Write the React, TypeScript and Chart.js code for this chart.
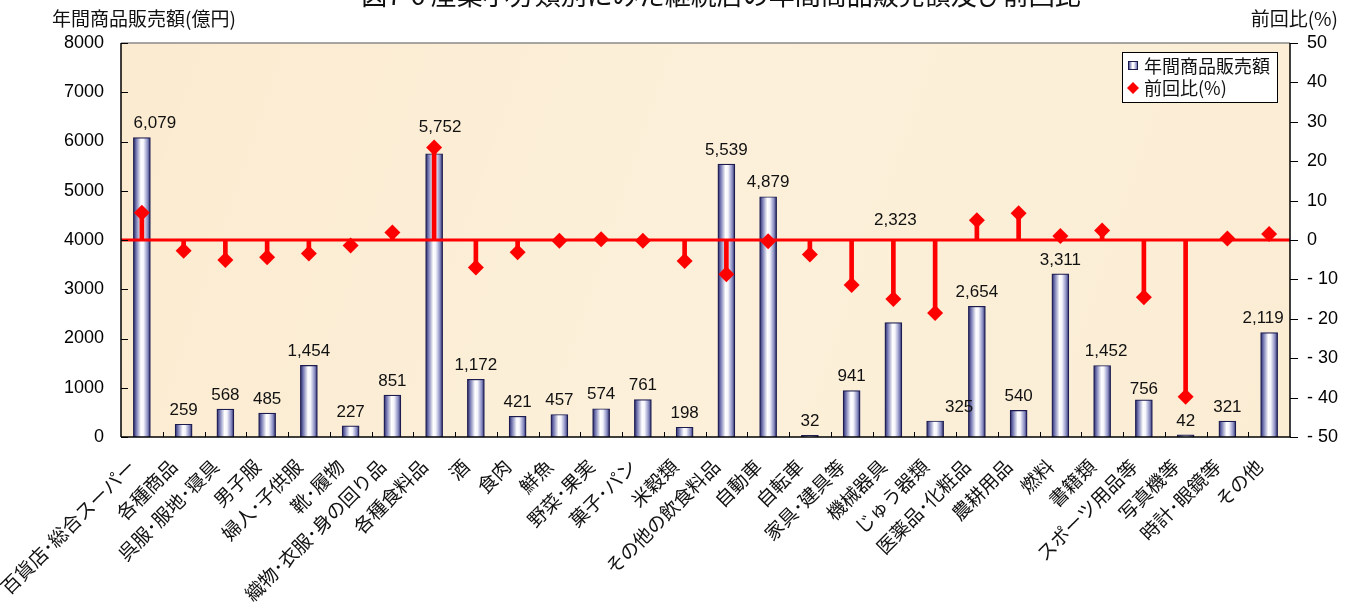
import React, { useEffect, useRef } from 'react';
import { Chart, registerables } from 'chart.js';

Chart.register(...registerables);

const W = 1352;
const H = 608;

const chartTitle = '図7-6 産業小分類別にみた継続店の年間商品販売額及び前回比';
const leftAxisTitle = '年間商品販売額(億円)';
const rightAxisTitle = '前回比(%)';
const salesSeriesName = '年間商品販売額';
const rateSeriesName = '前回比(%)';

const categories = [
  '百貨店･総合スーパー', '各種商品', '呉服･服地･寝具', '男子服', '婦人･子供服', '靴･履物',
  '織物･衣服･身の回り品', '各種食料品', '酒', '食肉', '鮮魚', '野菜･果実', '菓子･パン', '米穀類',
  'その他の飲食料品', '自動車', '自転車', '家具･建具等', '機械器具', 'じゅう器類', '医薬品･化粧品',
  '農耕用品', '燃料', '書籍類', 'スポーツ用品等', '写真機等', '時計･眼鏡等', 'その他',
];

const salesValues = [
  6079, 259, 568, 485, 1454, 227, 851, 5752, 1172, 421, 457, 574, 761, 198,
  5539, 4879, 32, 941, 2323, 325, 2654, 540, 3311, 1452, 756, 42, 321, 2119,
];

const changeRates = [
  6.9, -2.7, -5.1, -4.4, -3.4, -1.4, 1.9, 23.5, -7.0, -3.1, -0.2, 0.2, -0.2, -5.3,
  -8.7, -0.3, -3.7, -11.4, -15.0, -18.5, 5.0, 6.8, 1.0, 2.4, -14.5, -39.8, 0.4, 1.5,
];

const leftTickRange = [0, 8000, 1000];
const rightTickRange = [-50, 50, 10];

const FONT_NUM = '"Liberation Sans", Arial, sans-serif';
const FONT_JP = '"Noto Sans CJK JP", "Noto Sans", sans-serif';

const BAR_W = 17;

function barGradient(ctx: CanvasRenderingContext2D, left: number, w: number) {
  const g = ctx.createLinearGradient(left, 0, left + w, 0);
  g.addColorStop(0, '#22225f');
  g.addColorStop(0.15, '#6d70ad');
  g.addColorStop(0.45, '#ffffff');
  g.addColorStop(0.6, '#f4f4fc');
  g.addColorStop(0.85, '#8689c0');
  g.addColorStop(1, '#22225f');
  return g;
}

// label nudges (pixels) for value labels that were moved in the original
const labelNudge: Record<number, [number, number]> = {
  0: [13, 0],
  7: [6, -12],
  18: [2, -88],
  19: [24, 0],
  23: [4, 0],
  24: [0, 4],
  27: [-6, 0],
};

export default function App() {
  const ref = useRef<HTMLCanvasElement>(null);

  useEffect(() => {
    const canvas = ref.current!;

    const line = (ctx: CanvasRenderingContext2D, x1: number, y1: number, x2: number, y2: number) => {
      ctx.beginPath();
      ctx.moveTo(x1, y1);
      ctx.lineTo(x2, y2);
      ctx.stroke();
    };

    const decor = {
      id: 'decor',
      beforeDraw(chart: any) {
        const { ctx, chartArea: a } = chart;
        ctx.save();
        ctx.fillStyle = '#ffffff';
        ctx.fillRect(0, 0, W, H);
        const bg = ctx.createLinearGradient(a.left, a.top, a.right, a.bottom);
        bg.addColorStop(0, '#fbebd0');
        bg.addColorStop(0.5, '#fcf0da');
        bg.addColorStop(1, '#fbedd4');
        ctx.fillStyle = bg;
        ctx.fillRect(a.left, a.top, a.right - a.left, a.bottom - a.top);
        ctx.restore();
      },
      afterDatasetsDraw(chart: any) {
        const { ctx, chartArea: a, scales } = chart;
        const xs = scales.x, ys = scales.y, y1s = scales.y1;
        ctx.save();
        // zero line of rate axis
        const z = y1s.getPixelForValue(0);
        ctx.strokeStyle = '#ff0000';
        ctx.lineWidth = 3;
        line(ctx, a.left, z, a.right, z);
        // top border
        ctx.strokeStyle = '#8a8a8a';
        ctx.lineWidth = 1.5;
        line(ctx, a.left, a.top, a.right, a.top);
        // axes
        ctx.strokeStyle = '#000000';
        ctx.lineWidth = 1.5;
        line(ctx, a.left, a.top, a.left, a.bottom);
        line(ctx, a.left, a.bottom, a.right + 0.75, a.bottom);
        line(ctx, a.right, a.top, a.right, a.bottom);
        ctx.lineWidth = 1;
        ys.ticks.forEach((t: any) => {
          const py = Math.round(ys.getPixelForValue(t.value)) + 0.5;
          line(ctx, a.left, py, a.left + 7, py);
        });
        y1s.ticks.forEach((t: any) => {
          const py = Math.round(y1s.getPixelForValue(t.value)) + 0.5;
          line(ctx, a.right, py, a.right + 8, py);
        });
        const n = categories.length;
        const step = (a.right - a.left) / n;
        for (let i = 1; i < n; i++) {
          const px = Math.round(a.left + step * i) + 0.5;
          line(ctx, px, a.bottom, px, a.bottom - 5);
        }
        // value labels
        ctx.fillStyle = '#111111';
        ctx.font = `17px ${FONT_NUM}`;
        ctx.textAlign = 'center';
        ctx.textBaseline = 'middle';
        salesValues.forEach((v, i) => {
          const px = xs.getPixelForValue(i);
          const py = ys.getPixelForValue(v);
          const [dx, dy] = labelNudge[i] || [0, 0];
          ctx.fillText(v.toLocaleString('en-US'), px + dx, py - 14 + dy);
        });
        // category labels, rotated 45 degrees
        ctx.font = `19px ${FONT_JP}`;
        ctx.textAlign = 'right';
        ctx.textBaseline = 'middle';
        categories.forEach((c, i) => {
          const px = xs.getPixelForValue(i);
          ctx.save();
          ctx.translate(px - 10, a.bottom + 26);
          ctx.rotate(-Math.PI / 4);
          ctx.fillText(c, 0, 0);
          ctx.restore();
        });
        ctx.restore();
      },
      afterDraw(chart: any) {
        const { ctx } = chart;
        ctx.save();
        ctx.fillStyle = '#111111';
        // main title (cut at top of image)
        ctx.font = `26px ${FONT_JP}`;
        ctx.textAlign = 'center';
        ctx.textBaseline = 'alphabetic';
        ctx.fillText(chartTitle, 721, 5);
        // axis titles
        ctx.font = `19px ${FONT_JP}`;
        ctx.textBaseline = 'middle';
        ctx.textAlign = 'left';
        ctx.fillText(leftAxisTitle, 52, 19);
        ctx.textAlign = 'right';
        ctx.fillText(rightAxisTitle, 1338, 19);
        // legend
        const lx = 1122, ly = 52, lw = 155, lh = 50;
        ctx.fillStyle = '#ffffff';
        ctx.fillRect(lx, ly, lw, lh);
        ctx.strokeStyle = '#000000';
        ctx.lineWidth = 1;
        ctx.strokeRect(lx + 0.5, ly + 0.5, lw, lh);
        ctx.fillStyle = barGradient(ctx, 1128, 10);
        ctx.fillRect(1128, 61, 10, 9);
        ctx.strokeStyle = '#1a1a4a';
        ctx.strokeRect(1128.5, 61.5, 9, 8);
        ctx.fillStyle = '#ff0000';
        ctx.beginPath();
        ctx.moveTo(1133, 82);
        ctx.lineTo(1139, 88);
        ctx.lineTo(1133, 94);
        ctx.lineTo(1127, 88);
        ctx.closePath();
        ctx.fill();
        ctx.fillStyle = '#111111';
        ctx.font = `18px ${FONT_JP}`;
        ctx.textAlign = 'left';
        ctx.textBaseline = 'middle';
        ctx.fillText(salesSeriesName, 1144, 66);
        ctx.fillText(rateSeriesName, 1144, 88);
        ctx.restore();
      },
    };

    const chart = new Chart(canvas, {
      type: 'bar',
      data: {
        labels: categories,
        datasets: [
          {
            type: 'line',
            label: rateSeriesName,
            data: changeRates,
            yAxisID: 'y1',
            showLine: false,
            pointStyle: 'rectRot',
            pointRadius: 8,
            pointBackgroundColor: '#ff0000',
            pointBorderWidth: 0,
            order: 1,
          } as any,
          {
            type: 'bar',
            label: 'drop',
            data: changeRates.map((v) => [0, v]),
            yAxisID: 'y1',
            backgroundColor: '#ff0000',
            borderWidth: 0,
            barThickness: 4,
            grouped: false,
            order: 2,
          } as any,
          {
            type: 'bar',
            label: salesSeriesName,
            data: salesValues,
            yAxisID: 'y',
            barThickness: BAR_W,
            grouped: false,
            borderWidth: 1.2,
            borderColor: '#1c1c50',
            backgroundColor: (c: any) => {
              const ch = c.chart;
              if (!ch.chartArea) return '#9aa0d0';
              const cx = ch.scales.x.getPixelForValue(c.dataIndex);
              return barGradient(ch.ctx, cx - BAR_W / 2, BAR_W);
            },
            order: 3,
          } as any,
        ],
      },
      options: {
        responsive: false,
        animation: false,
        layout: { padding: { top: 43, left: 0, right: 0, bottom: 0 } },
        plugins: {
          legend: { display: false },
          tooltip: { enabled: false },
          title: { display: false },
        },
        scales: {
          x: {
            type: 'category',
            offset: true,
            grid: { display: false, drawTicks: false },
            border: { display: false },
            ticks: { display: false, autoSkip: false },
            afterFit(s: any) {
              s.height = H - 437;
              s.paddingLeft = 0;
              s.paddingRight = 0;
            },
          },
          y: {
            position: 'left',
            min: leftTickRange[0],
            max: leftTickRange[1],
            ticks: {
              stepSize: leftTickRange[2],
              padding: 17,
              color: '#000000',
              font: { family: FONT_NUM, size: 18 },
              callback: (v: any) => String(v),
            },
            grid: { display: false, drawTicks: false },
            border: { display: false },
            afterFit(s: any) {
              s.width = 121;
            },
          },
          y1: {
            position: 'right',
            min: rightTickRange[0],
            max: rightTickRange[1],
            ticks: {
              stepSize: rightTickRange[2],
              padding: 17,
              color: '#000000',
              font: { family: FONT_NUM, size: 18 },
              callback: (v: any) => (Number(v) < 0 ? '- ' + Math.abs(Number(v)) : String(v)),
            },
            grid: { display: false, drawTicks: false },
            border: { display: false },
            afterFit(s: any) {
              s.width = W - 1290;
            },
          },
        },
      },
      plugins: [decor],
    });

    return () => chart.destroy();
  }, []);

  return (
    <div style={{ position: 'fixed', left: 0, top: 0, width: W, height: H, background: '#ffffff' }}>
      <canvas ref={ref} width={W} height={H} style={{ display: 'block', width: W, height: H }} />
    </div>
  );
}
